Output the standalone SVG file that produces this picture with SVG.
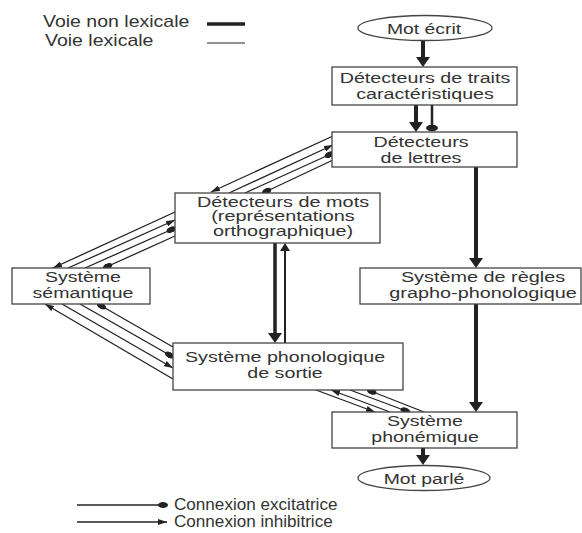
<svg xmlns="http://www.w3.org/2000/svg" width="582" height="533" viewBox="0 0 582 533">
<style>
.box{fill:#fff;stroke:#444;stroke-width:1.3}
.t{font-family:"Liberation Sans",Arial,sans-serif;font-size:15.5px;fill:#333;text-anchor:middle}
.tw{font-family:"Liberation Sans",Arial,sans-serif;font-size:13.8px;fill:#333;text-anchor:middle}
.ts{font-family:"Liberation Sans",Arial,sans-serif;font-size:16px;fill:#333;text-anchor:start}
.thin{stroke:#222;stroke-width:1.3;fill:none}
.thick{stroke:#222;stroke-width:4;fill:none}
</style>
<defs>
<marker id="ahT" viewBox="0 0 10 14" refX="3" refY="7" markerWidth="10" markerHeight="14" orient="auto" markerUnits="userSpaceOnUse"><path d="M0,0 L10,7 L0,14 z" fill="#222"/></marker>
<marker id="ahM" viewBox="0 0 8 10" refX="6" refY="5" markerWidth="8" markerHeight="10" orient="auto" markerUnits="userSpaceOnUse"><path d="M0,0 L8,5 L0,10 z" fill="#222"/></marker>
<marker id="ah" viewBox="0 0 9 6" refX="9" refY="3" markerWidth="9" markerHeight="6" orient="auto" markerUnits="userSpaceOnUse"><path d="M0,0 L9,3 L0,6 z" fill="#222"/></marker>
<marker id="dot" viewBox="0 0 10 6" refX="9" refY="3" markerWidth="10" markerHeight="6" orient="auto" markerUnits="userSpaceOnUse"><ellipse cx="5" cy="3" rx="5" ry="3" fill="#222"/></marker>
<marker id="dotH" viewBox="0 0 12 7" refX="6" refY="3.5" markerWidth="12" markerHeight="7" orient="0" markerUnits="userSpaceOnUse"><ellipse cx="6" cy="3.5" rx="6" ry="3.3" fill="#222"/></marker>
</defs>
<rect width="582" height="533" fill="#fff"/>

<g id="legend-top">
<g transform="translate(43,0) scale(1.22,1)"><text class="ts" x="0" y="27">Voie non lexicale</text></g>
<line x1="207" y1="24" x2="245" y2="24" stroke="#222" stroke-width="3.5"/>
<g transform="translate(45,0) scale(1.22,1)"><text class="ts" x="0" y="46">Voie lexicale</text></g>
<line x1="207" y1="43" x2="245" y2="43" stroke="#222" stroke-width="1.2"/>
</g>

<g id="connectors">
<line class="thick" x1="423" y1="41" x2="423" y2="60" marker-end="url(#ahT)"/>
<line class="thick" x1="416" y1="105" x2="416" y2="125" marker-end="url(#ahT)"/>
<line x1="432" y1="105" x2="432" y2="128" stroke="#222" stroke-width="2.5" marker-end="url(#dotH)"/>
<line class="thick" x1="476" y1="167" x2="476" y2="261" marker-end="url(#ahT)"/>
<line class="thick" x1="476" y1="304" x2="476" y2="405" marker-end="url(#ahT)"/>
<line x1="275" y1="243" x2="275" y2="336" stroke="#222" stroke-width="3.5" marker-end="url(#ahT)"/>
<line x1="285" y1="343" x2="285" y2="245" stroke="#222" stroke-width="2" marker-end="url(#ahM)"/>
<line class="thick" x1="423" y1="448" x2="423" y2="458" marker-end="url(#ahT)"/>

<path class="thin" d="M333,136 L211,192" marker-end="url(#ah)"/>
<path class="thin" d="M229,193 L333,145" marker-end="url(#ah)"/>
<path class="thin" d="M245,193 L333,153" marker-end="url(#dot)"/>
<path class="thin" d="M333,160 L263,193" marker-end="url(#dot)"/>

<path class="thin" d="M175,212 L53,268" marker-end="url(#ah)"/>
<path class="thin" d="M68,268 L175,220" marker-end="url(#ah)"/>
<path class="thin" d="M85,268 L175,228" marker-end="url(#dot)"/>
<path class="thin" d="M175,236 L104,268" marker-end="url(#dot)"/>

<path class="thin" d="M173,379 L45,304" marker-end="url(#ah)"/>
<path class="thin" d="M62,304 L173,368" marker-end="url(#ah)"/>
<path class="thin" d="M80,304 L173,357" marker-end="url(#dot)"/>
<path class="thin" d="M173,347 L98,304" marker-end="url(#dot)"/>

<path class="thin" d="M316,390 L375,412" marker-end="url(#ah)"/>
<path class="thin" d="M390,412 L331,390" marker-end="url(#ah)"/>
<path class="thin" d="M350,390 L409,412" marker-end="url(#dot)"/>
<path class="thin" d="M424,412 L368,390" marker-end="url(#dot)"/>
</g>

<g id="mot-ecrit">
<ellipse class="box" cx="425" cy="28" rx="67" ry="12.5"/>
<g transform="translate(424,0) scale(1.25,1)"><text class="t" x="0" y="34">Mot écrit</text></g>
</g>

<g id="traits">
<rect class="box" x="332" y="67" width="185" height="38"/>
<g transform="translate(425,0) scale(1.27,1)"><text class="t" x="0" y="83">Détecteurs de traits</text><text class="t" x="0" y="99">caractéristiques</text></g>
</g>

<g id="lettres">
<rect class="box" x="332" y="132" width="185" height="35"/>
<g transform="translate(421,0) scale(1.27,1)"><text class="t" x="0" y="147">Détecteurs</text><text class="t" x="0" y="163">de lettres</text></g>
</g>

<g id="mots">
<rect class="box" x="175" y="193" width="205" height="50"/>
<g transform="translate(283,0) scale(1.44,1)"><text class="tw" x="0" y="207">Détecteurs de mots</text><text class="tw" x="0" y="221.5">(représentations</text><text class="tw" x="0" y="236">orthographique)</text></g>
</g>

<g id="semantique">
<rect class="box" x="12" y="268" width="138" height="36"/>
<g transform="translate(83,0) scale(1.26,1)"><text class="t" x="0" y="282">Système</text><text class="t" x="0" y="298">sémantique</text></g>
</g>

<g id="regles">
<rect class="box" x="360" y="268" width="221" height="36"/>
<g transform="translate(483,0) scale(1.28,1)"><text class="t" x="0" y="282">Système de règles</text><text class="t" x="0" y="298">grapho-phonologique</text></g>
</g>

<g id="phonologique">
<rect class="box" x="173" y="343" width="230" height="47"/>
<g transform="translate(285,0) scale(1.27,1)"><text class="t" x="0" y="362">Système phonologique</text><text class="t" x="0" y="378">de sortie</text></g>
</g>

<g id="phonemique">
<rect class="box" x="332" y="412" width="185" height="36"/>
<g transform="translate(425,0) scale(1.26,1)"><text class="t" x="0" y="426">Système</text><text class="t" x="0" y="442">phonémique</text></g>
</g>

<g id="mot-parle">
<ellipse class="box" cx="424" cy="478" rx="66" ry="12.5"/>
<g transform="translate(424,0) scale(1.25,1)"><text class="t" x="0" y="484">Mot parlé</text></g>
</g>

<g id="legend-bottom">
<line class="thin" x1="77" y1="505" x2="167" y2="505" marker-end="url(#dot)"/>
<g transform="translate(174,0) scale(1.07,1)"><text class="ts" x="0" y="510">Connexion excitatrice</text></g>
<line class="thin" x1="77" y1="522" x2="167" y2="522" marker-end="url(#ah)"/>
<g transform="translate(174,0) scale(1.07,1)"><text class="ts" x="0" y="527">Connexion inhibitrice</text></g>
</g>
</svg>
